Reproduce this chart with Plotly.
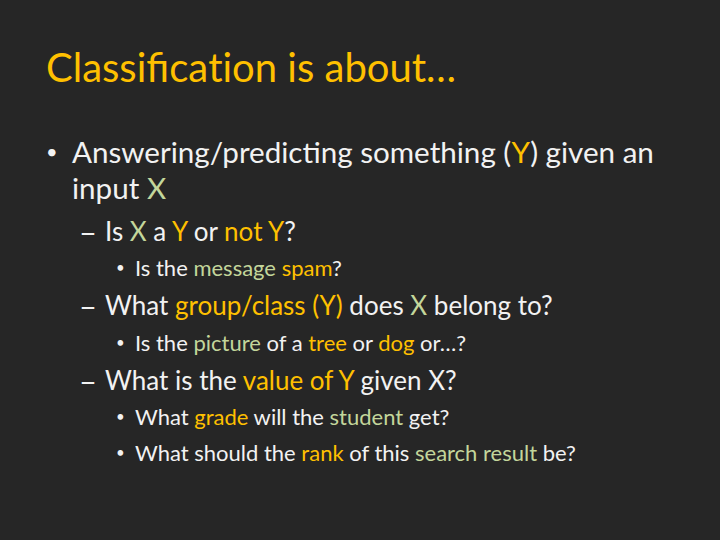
import plotly.graph_objects as go

# slide text: each line is a list of (text, colour key) segments
title_text = "Classifica\u200ct\u200cion is about…"

line_levels = [1, 0, 2, 3, 2, 3, 2, 3, 3]
line_markers = ["•", "", "–", "•", "–", "•", "–", "•", "•"]
line_segments = [
    [("Answering/predicting something (", "w"), ("Y", "o"), (") given an", "w")],
    [("input ", "w"), ("X", "g")],
    [("Is ", "w"), ("X", "g"), (" a ", "w"), ("Y", "o"), (" or ", "w"), ("not Y", "o"), ("?", "w")],
    [("Is the ", "w"), ("message", "g"), (" ", "w"), ("spam", "o"), ("?", "w")],
    [("What ", "w"), ("group/class (Y)", "o"), (" does ", "w"), ("X", "g"), (" belong to?", "w")],
    [("Is the ", "w"), ("picture", "g"), (" of a ", "w"), ("tree", "o"), (" or ", "w"), ("dog", "o"), (" or…?", "w")],
    [("What is the ", "w"), ("value of Y", "o"), (" given X?", "w")],
    [("What ", "w"), ("grade", "o"), (" will the ", "w"), ("student", "g"), (" get?", "w")],
    [("What should the ", "w"), ("rank", "o"), (" of this ", "w"), ("search result", "g"), (" be?", "w")],
]
line_y = [151, 187, 231, 267, 305, 342, 380, 416, 452]

colours = {"w": "#f2f2f2", "o": "#ffc000", "g": "#c3d69b"}
W, H = 720, 540
FONT = "Lato"

# level -> (marker x, text x, font size, marker size)
levels = {0: (44, 70, 29.6, 20), 1: (44, 70, 29.6, 20), 2: (77, 103, 26, 31), 3: (114, 133, 22, 15)}

fig = go.Figure()
fig.update_xaxes(visible=False, range=[0, W])
fig.update_yaxes(visible=False, range=[H, 0])

fig.add_annotation(x=44 / W, y=1 - 67 / H, xref="paper", yref="paper",
                   text=title_text, showarrow=False, xanchor="left", yanchor="middle",
                   font=dict(family=FONT, size=40, color=colours["o"]))

for lvl, mark, segs, y in zip(line_levels, line_markers, line_segments, line_y):
    mx, tx, fs, ms = levels[lvl]
    if mark:
        fig.add_annotation(x=mx / W, y=1 - y / H, xref="paper", yref="paper",
                           text=mark, showarrow=False, xanchor="left", yanchor="middle",
                           font=dict(family=FONT, size=ms, color=colours["w"]))
    html = "".join(f"<span style='color:{colours[c]}'>{t}</span>" for t, c in segs)
    fig.add_annotation(x=tx / W, y=1 - y / H, xref="paper", yref="paper",
                       text=html, showarrow=False, xanchor="left", yanchor="middle",
                       font=dict(family=FONT, size=fs, color=colours["w"]))

fig.update_layout(width=W, height=H, margin=dict(l=0, r=0, t=0, b=0),
                  paper_bgcolor="#262626", plot_bgcolor="#262626", showlegend=False)
fig.write_html("out.html", config={"displayModeBar": False},
               post_script="document.body.style.margin='0';")
